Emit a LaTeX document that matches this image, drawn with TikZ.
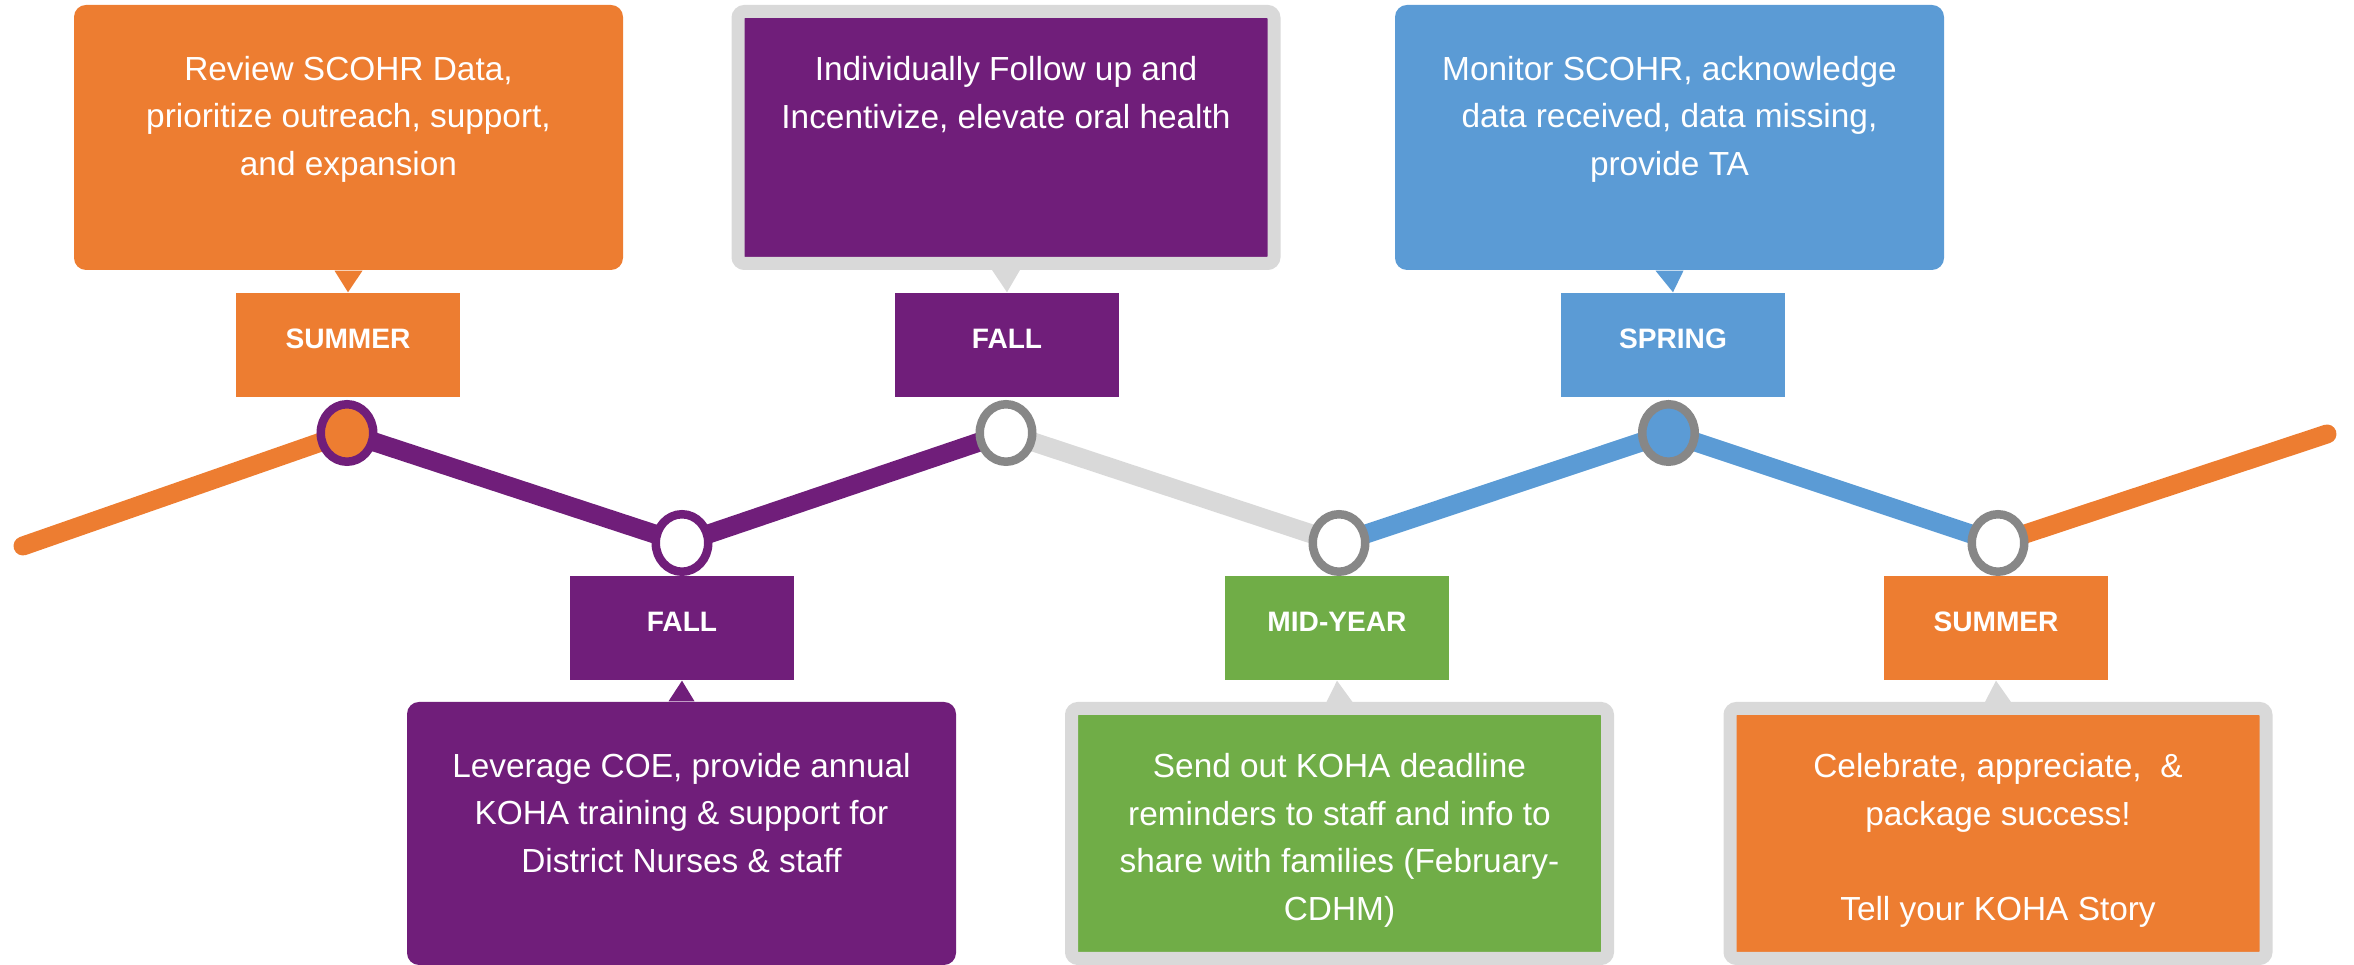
\documentclass[tikz,border=0pt]{standalone}
\usepackage{fontspec}
\setmainfont{Liberation Sans}
\usetikzlibrary{positioning,shapes.geometric,backgrounds}
\definecolor{korange}{HTML}{ED7D31}
\definecolor{kpurple}{HTML}{701E7A}
\definecolor{kblue}{HTML}{5B9BD5}
\definecolor{kgreen}{HTML}{70AD47}
\definecolor{kgrey}{HTML}{D9D9D9}
\definecolor{kring}{HTML}{878787}
\tikzset{
  season/.style={rectangle,fill=#1,minimum width=2.24cm,minimum height=1.04cm,inner sep=0pt,
    text=white,font=\bfseries\fontsize{8}{9.6}\selectfont,text height=0.2cm,text depth=0.12cm},
  bubble/.style={rectangle,rounded corners=0.12cm,fill=#1,minimum width=5.49cm,inner sep=0pt},
  boxedbubble/.style={rectangle,rounded corners=0.065cm,draw=kgrey,line width=0.13cm,fill=#1,
    minimum width=5.36cm,inner sep=0pt},
  bubbletext/.style={text=white,align=center,inner sep=0pt,font=\fontsize{9.5}{13.5}\selectfont},
  milestone/.style={ellipse,draw=#1,line width=0.085cm,minimum width=0.525cm,minimum height=0.575cm,inner sep=0pt},
  track/.style={line width=0.19cm,line cap=round,draw=#1}
}
\begin{document}
\begin{tikzpicture}
\useasboundingbox (0,0) rectangle (23.54,9.65);

% callouts
\node[bubble=korange,minimum height=2.65cm] (n1) at (3.485,8.275) {};
\node[boxedbubble=kpurple,minimum height=2.52cm] (n2) at (10.06,8.275) {};
\node[bubble=kblue,minimum height=2.65cm] (n3) at (16.695,8.275) {};
\node[bubble=kpurple,minimum height=2.63cm] (n4) at (6.815,1.315) {};
\node[boxedbubble=kgreen,minimum height=2.50cm] (n5) at (13.395,1.315) {};
\node[boxedbubble=korange,minimum height=2.50cm] (n6) at (19.98,1.315) {};

\node[bubbletext,below=0.51cm of n1.north] (t1) {Review SCOHR Data,\\prioritize outreach, support,\\and expansion};
\node[bubbletext,below=0.51cm of n2.north] (t2) {Individually Follow up and\\Incentivize, elevate oral health};
\node[bubbletext,below=0.51cm of n3.north] (t3) {Monitor SCOHR, acknowledge\\data received, data missing,\\provide TA};
\node[bubbletext,below=0.51cm of n4.north] (t4) {Leverage COE, provide annual\\KOHA training \& support for\\District Nurses \& staff};
\node[bubbletext,below=0.51cm of n5.north] (t5) {Send out KOHA deadline\\reminders to staff and info to\\share with families (February-\\CDHM)};
\node[bubbletext,below=0.51cm of n6.north] (t6) {Celebrate, appreciate,\ \ \&\\package success!\\[13.5pt]Tell your KOHA Story};

% season labels
\node[season=korange] (s1) at (3.48,6.20) {SUMMER};
\node[season=kpurple] (s2) at (10.07,6.20) {FALL};
\node[season=kblue] (s3) at (16.73,6.20) {SPRING};
\node[season=kpurple] (s4) at (6.82,3.37) {FALL};
\node[season=kgreen] (s5) at (13.37,3.37) {MID-YEAR};
\node[season=korange] (s6) at (19.96,3.37) {SUMMER};

% pointers
\fill[korange] ([xshift=-0.14cm]n1.south) -- ([xshift=0.14cm]n1.south) -- (s1.north) -- cycle;
\fill[kgrey] ([xshift=-0.14cm]n2.south) -- ([xshift=0.14cm]n2.south) -- (s2.north) -- cycle;
\fill[kblue] ([xshift=-0.14cm]n3.south) -- ([xshift=0.14cm]n3.south) -- (s3.north) -- cycle;
\fill[kpurple] ([xshift=-0.13cm]n4.north) -- ([xshift=0.13cm]n4.north) -- (s4.south) -- cycle;
\fill[kgrey] ([xshift=-0.13cm]n5.north) -- ([xshift=0.13cm]n5.north) -- (s5.south) -- cycle;
\fill[kgrey] ([xshift=-0.13cm]n6.north) -- ([xshift=0.13cm]n6.north) -- (s6.south) -- cycle;

% timeline
\coordinate (e0) at (0.23,4.19);
\coordinate (e7) at (23.27,5.31);
\node[milestone=kpurple,fill=korange] (c1) at (3.47,5.32) {};
\node[milestone=kpurple,fill=white] (c2) at (6.82,4.22) {};
\node[milestone=kring,fill=white] (c3) at (10.06,5.32) {};
\node[milestone=kring,fill=white] (c4) at (13.39,4.22) {};
\node[milestone=kring,fill=kblue] (c5) at (16.685,5.32) {};
\node[milestone=kring,fill=white] (c6) at (19.98,4.22) {};

\begin{scope}[on background layer]
\draw[track=korange] (e0) -- (c1.center);
\draw[track=kpurple] (c1.center) -- (c2.center);
\draw[track=kpurple] (c2.center) -- (c3.center);
\draw[track=kgrey] (c3.center) -- (c4.center);
\draw[track=kblue] (c4.center) -- (c5.center);
\draw[track=kblue] (c5.center) -- (c6.center);
\draw[track=korange] (c6.center) -- (e7);
\end{scope}
\end{tikzpicture}
\end{document}
